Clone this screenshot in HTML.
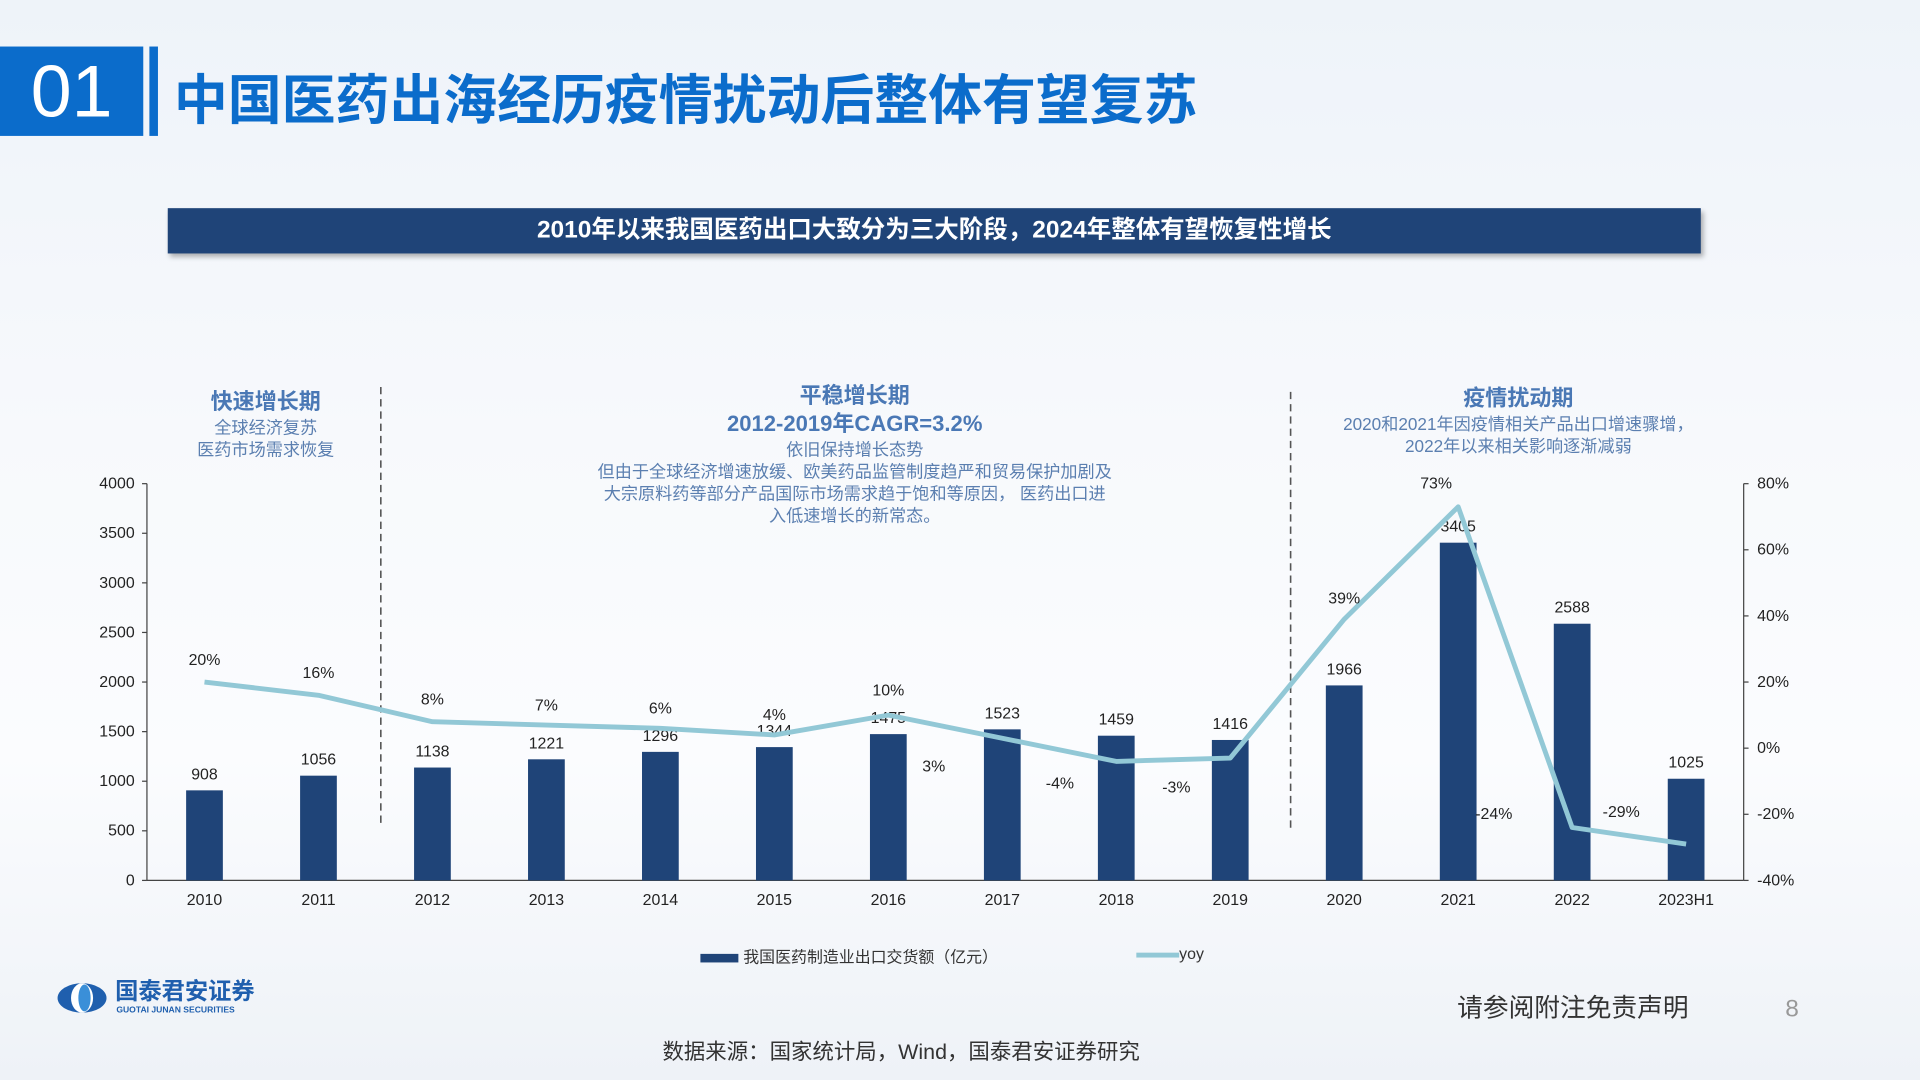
<!DOCTYPE html>
<html><head><meta charset="utf-8"><style>
html,body{margin:0;padding:0;width:1920px;height:1080px;overflow:hidden;background:#fff}
#wrap{position:absolute;left:0;top:0;width:1568px;height:882px;transform:scale(1.22449,1.22449);transform-origin:0 0;
background:linear-gradient(180deg,#eef3f9 0%,#f7f9fc 40%,#fbfcfe 70%,#eef2f7 100%);font-family:"Liberation Sans","Noto Sans CJK SC",sans-serif;overflow:hidden}
.abs{position:absolute}
</style></head><body>
<div id="wrap">
<div class="abs" style="left:0;top:38px;width:117px;height:73px;background:#0b6ccb;color:#fff;font-size:60px;line-height:73px;text-align:center">01</div>
<div class="abs" style="left:122px;top:38px;width:7px;height:73px;background:#0b6ccb"></div>
<div class="abs" style="left:142px;top:46px;font-size:44px;font-weight:bold;color:#0b6ccb;letter-spacing:0px">中国医药出海经历疫情扰动后整体有望复苏</div>
<div class="abs" style="left:137px;top:170px;width:1252px;height:37px;background:#1f4478;box-shadow:2px 3px 4px rgba(0,0,0,.3);color:#fff;font-size:20px;font-weight:bold;line-height:37px;text-align:center">2010年以来我国医药出口大致分为三大阶段，2024年整体有望恢复性增长</div>

<div class="abs" style="left:117px;top:316px;width:200px;text-align:center;color:#5b7fb0;font-size:14px;line-height:18px"><div style="font-size:18px;font-weight:bold;color:#4a78b5;line-height:24px">快速增长期</div>全球经济复苏<br>医药市场需求恢复</div>
<div class="abs" style="left:487px;top:312px;width:422px;text-align:center;color:#5b7fb0;font-size:14px;line-height:18px"><div style="font-size:18px;font-weight:bold;color:#4a78b5;line-height:23px">平稳增长期</div><div style="font-size:18px;font-weight:bold;color:#4a78b5;line-height:23px">2012-2019年CAGR=3.2%</div>依旧保持增长态势<br>但由于全球经济增速放缓、欧美药品监管制度趋严和贸易保护加剧及大宗原料药等部分产品国际市场需求趋于饱和等原因， 医药出口进入低速增长的新常态。</div>
<div class="abs" style="left:1060px;top:313px;width:360px;text-align:center;color:#5b7fb0;font-size:14px;line-height:18px"><div style="font-size:18px;font-weight:bold;color:#4a78b5;line-height:24px">疫情扰动期</div>2020和2021年因疫情相关产品出口增速骤增，<br>2022年以来相关影响逐渐减弱</div>

<svg class="abs" style="left:0;top:0" width="1568" height="882" id="chart"></svg>

<div class="abs" style="left:572px;top:771px;font-size:13px;color:#333"><span style="display:inline-block;width:31px;height:7px;background:#1f4478;vertical-align:middle;margin-right:4px"></span>我国医药制造业出口交货额（亿元）</div>
<div class="abs" style="left:928px;top:771px;font-size:13px;color:#333"><span style="display:inline-block;width:35px;height:4px;background:#92c8d6;vertical-align:middle"></span>yoy</div>

<div class="abs" style="left:46px;top:802px">
<svg width="42" height="26" style="position:absolute;left:0;top:0"><ellipse cx="21" cy="13" rx="20" ry="12" fill="#1f5fae"/><ellipse cx="21" cy="13" rx="9" ry="12" fill="#fff"/><ellipse cx="23" cy="13" rx="5" ry="11" fill="#3a8fd8"/></svg>
<div style="position:absolute;left:48px;top:-2px;font-size:19px;line-height:22px;font-weight:bold;color:#1f5fae;white-space:nowrap">国泰君安证券</div>
<div style="position:absolute;left:49px;top:20px;font-size:7px;line-height:8px;color:#1f5fae;white-space:nowrap;font-weight:bold">GUOTAI JUNAN SECURITIES</div></div>
<div class="abs" style="left:1190px;top:807px;font-size:21px;color:#333">请参阅附注免责声明</div>
<div class="abs" style="left:1458px;top:813px;font-size:20px;color:#999">8</div>
<div class="abs" style="left:541px;top:846px;font-size:17.5px;color:#333">数据来源：国家统计局，Wind，国泰君安证券研究</div>
</div>
<script>
const categories=["2010","2011","2012","2013","2014","2015","2016","2017","2018","2019","2020","2021","2022","2023H1"];
const exportValues=[908,1056,1138,1221,1296,1344,1475,1523,1459,1416,1966,3405,2588,1025];
const yoyValues=[20,16,8,7,6,4,10,3,-4,-3,39,73,-24,-29];
const leftTicks=[0,500,1000,1500,2000,2500,3000,3500,4000];
const rightTicks=[-40,-20,0,20,40,60,80];
const yoyLabelShift=[[0,-14],[0,-14],[0,-14],[0,-12],[0,-12],[0,-12],[0,-16],[-56,27],[-46,22],[-44,28],[0,-13],[-18,-15],[-64,-7],[-53,-22]];
const NS="http://www.w3.org/2000/svg";
const svg=document.getElementById('chart');
const X0=120,X1=1424,Y0=719,Y1=395;
const step=(1377-167)/13;
const xPos=i=>167+i*step;
const yL=v=>Y0-(v-0)/4000*(Y0-Y1);
const yR=v=>Y0-(v+40)/120*(Y0-Y1);
function mk(t,a,txt){const e=document.createElementNS(NS,t);for(const k in a)e.setAttribute(k,a[k]);if(txt!==undefined)e.textContent=txt;svg.appendChild(e);return e;}
let e;
e=mk('line',{x1:X0,y1:Y1,x2:X0,y2:Y0,stroke:'#444','stroke-width':1});


e=mk('line',{x1:X1,y1:Y1,x2:X1,y2:Y0,stroke:'#444','stroke-width':1});


e=mk('line',{x1:X0,y1:Y0,x2:X1,y2:Y0,stroke:'#444','stroke-width':1});


leftTicks.forEach(v=>{const y=yL(v);mk('line',{x1:X0-4,y1:y,x2:X0,y2:y,stroke:'#444'});
e=mk('text',{x:X0-10,y:y+4,'text-anchor':'end','font-size':13,fill:'#222'},v);

});
rightTicks.forEach(v=>{const y=yR(v);mk('line',{x1:X1,y1:y,x2:X1+4,y2:y,stroke:'#444'});
e=mk('text',{x:X1+11,y:y+4,'font-size':13,fill:'#222'},v+'%');

});
e=mk('line',{x1:311,y1:316,x2:311,y2:672,stroke:'#555','stroke-dasharray':'6,4','stroke-width':1.3});


e=mk('line',{x1:1054,y1:320,x2:1054,y2:678,stroke:'#555','stroke-dasharray':'6,4','stroke-width':1.3});


categories.forEach((c,i)=>{const x=xPos(i),v=exportValues[i];
e=mk('rect',{x:x-15,y:yL(v),width:30,height:Y0-yL(v),fill:'#1f4478'});


e=mk('text',{x:x,y:yL(v)-9,'text-anchor':'middle','font-size':13,fill:'#222'},v);


e=mk('text',{x:x,y:Y0+20,'text-anchor':'middle','font-size':13,fill:'#222'},c);

});
const pts=yoyValues.map((v,i)=>xPos(i)+','+yR(v)).join(' ');
e=mk('polyline',{points:pts,fill:'none',stroke:'#92c8d6','stroke-width':4,'stroke-linejoin':'round'});


yoyValues.forEach((v,i)=>{const s=yoyLabelShift[i];
e=mk('text',{x:xPos(i)+s[0],y:yR(v)+s[1],'text-anchor':'middle','font-size':13,fill:'#222'},v+'%');

});
</script>
</body></html>
